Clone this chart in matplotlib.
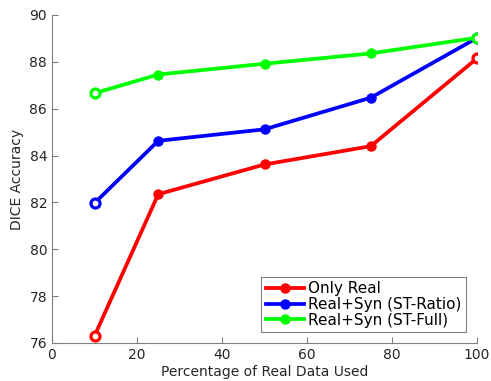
import matplotlib
matplotlib.use("Agg")
import matplotlib.pyplot as plt

plt.rcParams.update({
    "font.family": "DejaVu Sans",
    "font.size": 10,
})

# ── Data ──────────────────────────────────────────────────────────────────────
pct_real = [10, 25, 50, 75, 100]
only_real = [76.3, 82.35, 83.62, 84.4, 88.15]
st_ratio = [81.97, 84.63, 85.12, 86.47, 89.02]
st_full = [86.66, 87.46, 87.92, 88.36, 89.03]

series = [
    ("Only Real", only_real, "#ff0000"),
    ("Real+Syn (ST-Ratio)", st_ratio, "#0000ff"),
    ("Real+Syn (ST-Full)", st_full, "#00ff00"),
]

fig = plt.figure(figsize=(4.91, 3.81), dpi=100)
ax = fig.add_axes([52 / 491, 38 / 381, 425 / 491, 328 / 381])

for label, vals, col in series:
    ax.plot(pct_real, vals, color=col, linewidth=2.7, marker="o", markersize=6.5,
            markerfacecolor=col, markeredgecolor=col, label=label)
    # hollow end markers
    ends = [0, len(pct_real) - 1]
    ax.plot([pct_real[i] for i in ends], [vals[i] for i in ends], linestyle="none",
            marker="o", markersize=6.5, markerfacecolor="white",
            markeredgecolor=col, markeredgewidth=2.3)

ax.set_xlim(0, 100)
ax.set_ylim(76, 90)
ax.set_xticks(range(0, 101, 20))
ax.set_yticks(range(76, 91, 2))
ax.set_xlabel("Percentage of Real Data Used", color="#262626", labelpad=2)
ax.set_ylabel("DICE Accuracy", color="#262626", labelpad=4)

for s in ["top", "right"]:
    ax.spines[s].set_visible(False)
for s in ["left", "bottom"]:
    ax.spines[s].set_color("#808080")
    ax.spines[s].set_linewidth(0.8)
ax.tick_params(direction="in", colors="#808080", labelcolor="#262626",
               labelsize=10, length=4, width=0.8)

leg = ax.legend(loc="lower right", fontsize=11, fancybox=False, framealpha=1,
                edgecolor="#808080", handlelength=2.5, borderpad=0.3,
                labelspacing=0.05, handletextpad=0.3, borderaxespad=0.7)
leg.get_frame().set_linewidth(0.8)

fig.savefig("out.png", dpi=100)
